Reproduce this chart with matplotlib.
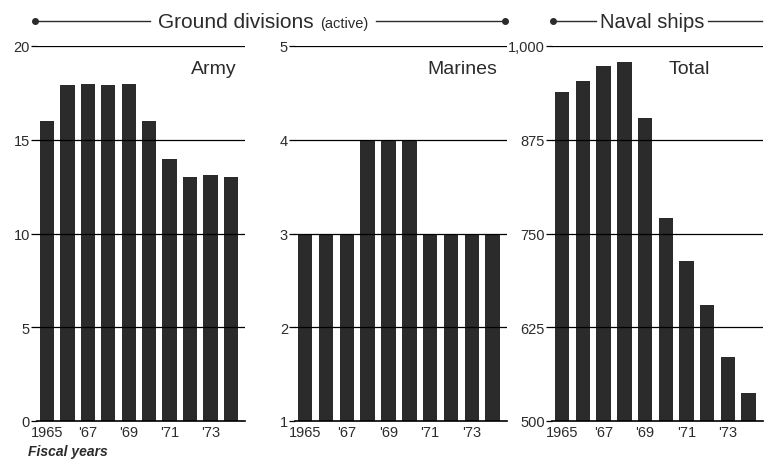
import numpy as np
import matplotlib.pyplot as plt
from matplotlib.lines import Line2D

plt.rcParams['font.family'] = ['Liberation Sans', 'DejaVu Sans']

years = [1965, 1966, 1967, 1968, 1969, 1970, 1971, 1972, 1973, 1974]
year_labels = ["1965", "", "'67", "", "'69", "", "'71", "", "'73", ""]
army = [16, 17.9, 18, 17.9, 18, 16, 14, 13, 13.1, 13]
marines = [3, 3, 3, 4, 4, 4, 3, 3, 3, 3]
naval = [939, 953, 974, 979, 904, 771, 713, 655, 585, 537]

ink = "#2b2b2b"
W, H = 774, 464

fig = plt.figure(figsize=(7.74, 4.64), dpi=100)
fig.patch.set_facecolor("white")

panels = [
    (army, (0, 20), [0, 5, 10, 15, 20], ["0", "5", "10", "15", "20"], 37, 245, "Army", 237),
    (marines, (1, 5), [1, 2, 3, 4, 5], ["1", "2", "3", "4", "5"], 295, 507, "Marines", 497),
    (naval, (500, 1000), [500, 625, 750, 875, 1000], ["500", "625", "750", "875", "1,000"], 552, 763, "Total", 710),
]

top, bot = 47, 422
for vals, ylim, ticks, tlabels, x0, x1, name, name_x in panels:
    ax = fig.add_axes([x0 / W, 1 - bot / H, (x1 - x0) / W, (bot - top) / H])
    x = np.arange(len(years))
    ax.bar(x, vals, width=0.7, color=ink, zorder=2)
    for t in ticks[1:]:
        ax.axhline(t, color="black", lw=0.9, zorder=3)
    ax.set_xlim(-0.49, 9.69)
    ax.set_ylim(*ylim)
    ax.set_yticks(ticks)
    ax.set_yticklabels(tlabels)
    ax.set_xticks(x)
    ax.set_xticklabels(year_labels)
    ax.tick_params(axis="y", length=4, width=0.9, color="black", pad=1, labelsize=10.5, labelcolor=ink)
    ax.tick_params(axis="x", length=0, pad=3, labelsize=10.5, labelcolor=ink)
    for s in ["left", "right", "top"]:
        ax.spines[s].set_visible(False)
    ax.spines["bottom"].set_color("black")
    ax.spines["bottom"].set_linewidth(1.2)
    ax.spines["bottom"].set_zorder(4)
    fig.text(name_x / W, 1 - 69 / H, name, ha="right", va="center", fontsize=14, color=ink)

# headers
hy = 1 - 22 / H
fig.add_artist(Line2D([35 / W, 150 / W], [hy, hy], color=ink, lw=1))
fig.add_artist(Line2D([376 / W, 505 / W], [hy, hy], color=ink, lw=1))
fig.add_artist(Line2D([35 / W, 505 / W], [hy, hy], ls="none", marker="o", ms=4, color=ink))
fig.text(158 / W, hy, "Ground divisions", ha="left", va="center", fontsize=15, color=ink)
fig.text(320 / W, hy - 0.004, "(active)", ha="left", va="center", fontsize=10.5, color=ink)

fig.add_artist(Line2D([553 / W, 596 / W], [hy, hy], color=ink, lw=1))
fig.add_artist(Line2D([708 / W, 762 / W], [hy, hy], color=ink, lw=1))
fig.add_artist(Line2D([553 / W], [hy], ls="none", marker="o", ms=4, color=ink))
fig.text(652 / W, hy, "Naval ships", ha="center", va="center", fontsize=14.5, color=ink)

fig.text(28 / W, 1 - 452 / H, "Fiscal years", ha="left", va="center", fontsize=10,
         style="italic", weight="bold", color=ink)

fig.savefig("out.png", dpi=100, facecolor="white")
